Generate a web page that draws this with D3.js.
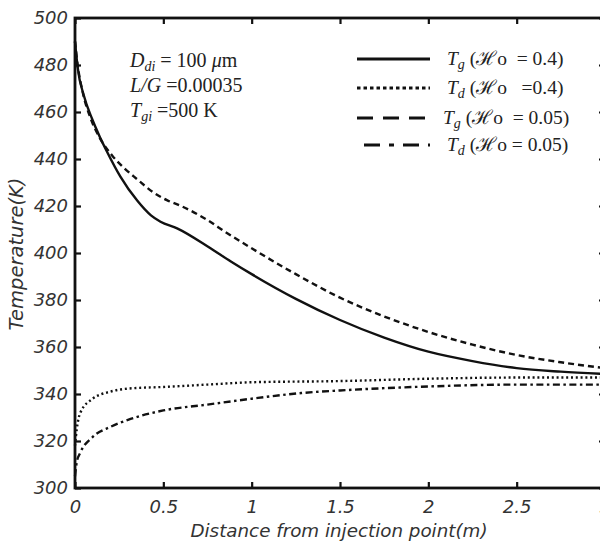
<!DOCTYPE html>
<html>
<head>
<meta charset="utf-8">
<script src="https://cdn.jsdelivr.net/npm/d3@7"></script>
<style>
    body { margin: 0; background: #fff; }
    svg { display: block; }
    .tick text { font-family: 'DejaVu Sans', Verdana, sans-serif; font-style: italic; fill: #333; }
    .serif { font-family: 'Liberation Serif', 'Times New Roman', serif; fill: #222; }
</style>
</head>
<body>
<svg id="chart" width="600" height="544"></svg>
<script>
// distance from injection point (m) / temperature (K)
var tgHigh_x = [0, 0.015, 0.05, 0.097, 0.14, 0.182, 0.257, 0.352, 0.43, 0.484, 0.578, 0.767, 0.88, 1.0, 1.25, 1.5, 1.75, 2.0, 2.25, 2.5, 2.75, 3.0];
var tgHigh_y = [490, 479, 467, 457, 449.5, 443, 432.5, 422.3, 416, 413.3, 410.5, 402, 396.5, 391, 380.5, 371.5, 364, 358, 354, 351, 349.5, 348.5];

var tgLow_x = [0, 0.015, 0.045, 0.09, 0.14, 0.21, 0.28, 0.35, 0.44, 0.52, 0.6, 0.75, 0.85, 1.0, 1.25, 1.5, 1.75, 2.0, 2.25, 2.5, 2.75, 3.0];
var tgLow_y = [490, 480, 468, 457, 449, 441.5, 436, 431.5, 426, 422.5, 420, 414, 409, 402, 391, 381, 373, 366.4, 361, 356.6, 353.5, 351];

var tdHigh_x = [0, 0.01, 0.03, 0.1, 0.2, 0.3, 0.5, 0.75, 1.0, 1.5, 2.0, 2.5, 3.0];
var tdHigh_y = [318, 325, 332, 338, 341, 342.3, 343, 344, 345, 345.5, 346.5, 347, 347];

var tdLow_x = [0, 0.01, 0.03, 0.1, 0.2, 0.3, 0.5, 0.75, 1.0, 1.28, 1.5, 2.0, 2.5, 3.0];
var tdLow_y = [305, 311, 315, 321.7, 326, 329, 333, 335.5, 338, 340.4, 341.5, 343.2, 344, 344];

var xTicks = [0, 0.5, 1, 1.5, 2, 2.5, 3];
var yTicks = [300, 320, 340, 360, 380, 400, 420, 440, 460, 480, 500];

var series = [
    { name: 'Tg04', xs: tgHigh_x, ys: tgHigh_y, dash: null, sub: 'g', label: ' (\u210Bo  = 0.4)' },
    { name: 'Td04', xs: tdHigh_x, ys: tdHigh_y, dash: '2,2.8', sub: 'd', label: ' (\u210Bo   =0.4)' },
    { name: 'Tg005', xs: tgLow_x, ys: tgLow_y, dash: '6,4', sub: 'g', label: ' (\u210Bo  = 0.05)' },
    { name: 'Td005', xs: tdLow_x, ys: tdLow_y, dash: '7,3.5,2.5,3.5', sub: 'd', label: ' (\u210Bo = 0.05)' }
];

var svg = d3.select('#chart');

var x = d3.scaleLinear().domain([0, 3]).range([75, 605]);
var y = d3.scaleLinear().domain([300, 500]).range([488, 18]);

// axes, ticks pointing inward
var axBottom = svg.append('g')
    .attr('transform', 'translate(0,' + y(300) + ')')
    .call(d3.axisBottom(x).tickValues(xTicks).tickSize(-6).tickPadding(12).tickFormat(d3.format('')));
var axTop = svg.append('g')
    .attr('transform', 'translate(0,' + y(500) + ')')
    .call(d3.axisTop(x).tickValues(xTicks).tickSize(-6).tickFormat(''));
var axLeft = svg.append('g')
    .attr('transform', 'translate(' + x(0) + ',0)')
    .call(d3.axisLeft(y).tickValues(yTicks).tickSize(-6).tickPadding(7));
var axRight = svg.append('g')
    .attr('transform', 'translate(' + x(3) + ',0)')
    .call(d3.axisRight(y).tickValues(yTicks).tickSize(-6).tickFormat(''));

[axBottom, axTop, axLeft, axRight].forEach(function (g) {
    g.select('.domain').remove();
    g.selectAll('.tick line').attr('stroke', '#111').attr('stroke-width', 2.2);
    g.selectAll('.tick text').attr('font-size', 18);
});

svg.append('rect')
    .attr('x', x(0))
    .attr('y', y(500))
    .attr('width', x(3) - x(0))
    .attr('height', y(300) - y(500))
    .attr('fill', 'none')
    .attr('stroke', '#111')
    .attr('stroke-width', 2.8);

// curves
var line = d3.line()
    .x(function (d) { return x(d[0]); })
    .y(function (d) { return y(d[1]); })
    .curve(d3.curveMonotoneX);

series.forEach(function (s) {
    var pts = s.xs.map(function (v, i) { return [v, s.ys[i]]; });
    svg.append('path')
        .datum(pts)
        .attr('class', 'curve ' + s.name)
        .attr('d', line)
        .attr('fill', 'none')
        .attr('stroke', '#111')
        .attr('stroke-width', 2.4)
        .attr('stroke-dasharray', s.dash);
});

// annotation block
var note = svg.append('g').attr('class', 'serif').attr('font-size', 20);

var n1 = note.append('text').attr('x', 130).attr('y', 67);
n1.append('tspan').attr('font-style', 'italic').text('D');
n1.append('tspan').attr('font-style', 'italic').attr('font-size', 14).attr('dy', 4).text('di');
n1.append('tspan').attr('dy', -4).text(' = 100 ');
n1.append('tspan').attr('font-style', 'italic').text('\u03BC');
n1.append('tspan').text('m');

var n2 = note.append('text').attr('x', 130).attr('y', 92);
n2.append('tspan').attr('font-style', 'italic').text('L/G');
n2.append('tspan').text(' =0.00035');

var n3 = note.append('text').attr('x', 130).attr('y', 117);
n3.append('tspan').attr('font-style', 'italic').text('T');
n3.append('tspan').attr('font-style', 'italic').attr('font-size', 14).attr('dy', 4).text('gi');
n3.append('tspan').attr('dy', -4).text(' =500 K');

// legend
var legendLineY = [59, 88, 118, 145];
var legendDash = [null, '3.5,3', '16,10', '16,9,5,9'];
var legendX0 = [357, 357, 357, 364];
var legendTextX = [447, 447, 443, 447];

var legend = svg.append('g').attr('class', 'legend');
series.forEach(function (s, i) {
    legend.append('line')
        .attr('x1', legendX0[i])
        .attr('x2', 430)
        .attr('y1', legendLineY[i])
        .attr('y2', legendLineY[i])
        .attr('stroke', '#111')
        .attr('stroke-width', 3.2)
        .attr('stroke-dasharray', legendDash[i]);

    var t = legend.append('text')
        .attr('class', 'serif')
        .attr('font-size', 19.5)
        .attr('x', legendTextX[i])
        .attr('y', legendLineY[i] + 6)
        .style('white-space', 'pre');
    t.append('tspan').attr('font-style', 'italic').text('T');
    t.append('tspan').attr('font-style', 'italic').attr('font-size', 14).attr('dy', 4).text(s.sub);
    t.append('tspan').attr('dy', -4).text(s.label);
});

// axis titles
svg.append('text')
    .attr('x', 339)
    .attr('y', 537)
    .attr('text-anchor', 'middle')
    .attr('font-family', "'DejaVu Sans', Verdana, sans-serif")
    .attr('font-style', 'italic')
    .attr('font-size', 18.3)
    .attr('fill', '#333')
    .text('Distance from injection point(m)');

svg.append('text')
    .attr('transform', 'translate(23,254) rotate(-90)')
    .attr('text-anchor', 'middle')
    .attr('font-family', "'DejaVu Sans', Verdana, sans-serif")
    .attr('font-style', 'italic')
    .attr('font-size', 19.5)
    .attr('fill', '#333')
    .text('Temperature(K)');
</script>
</body>
</html>
